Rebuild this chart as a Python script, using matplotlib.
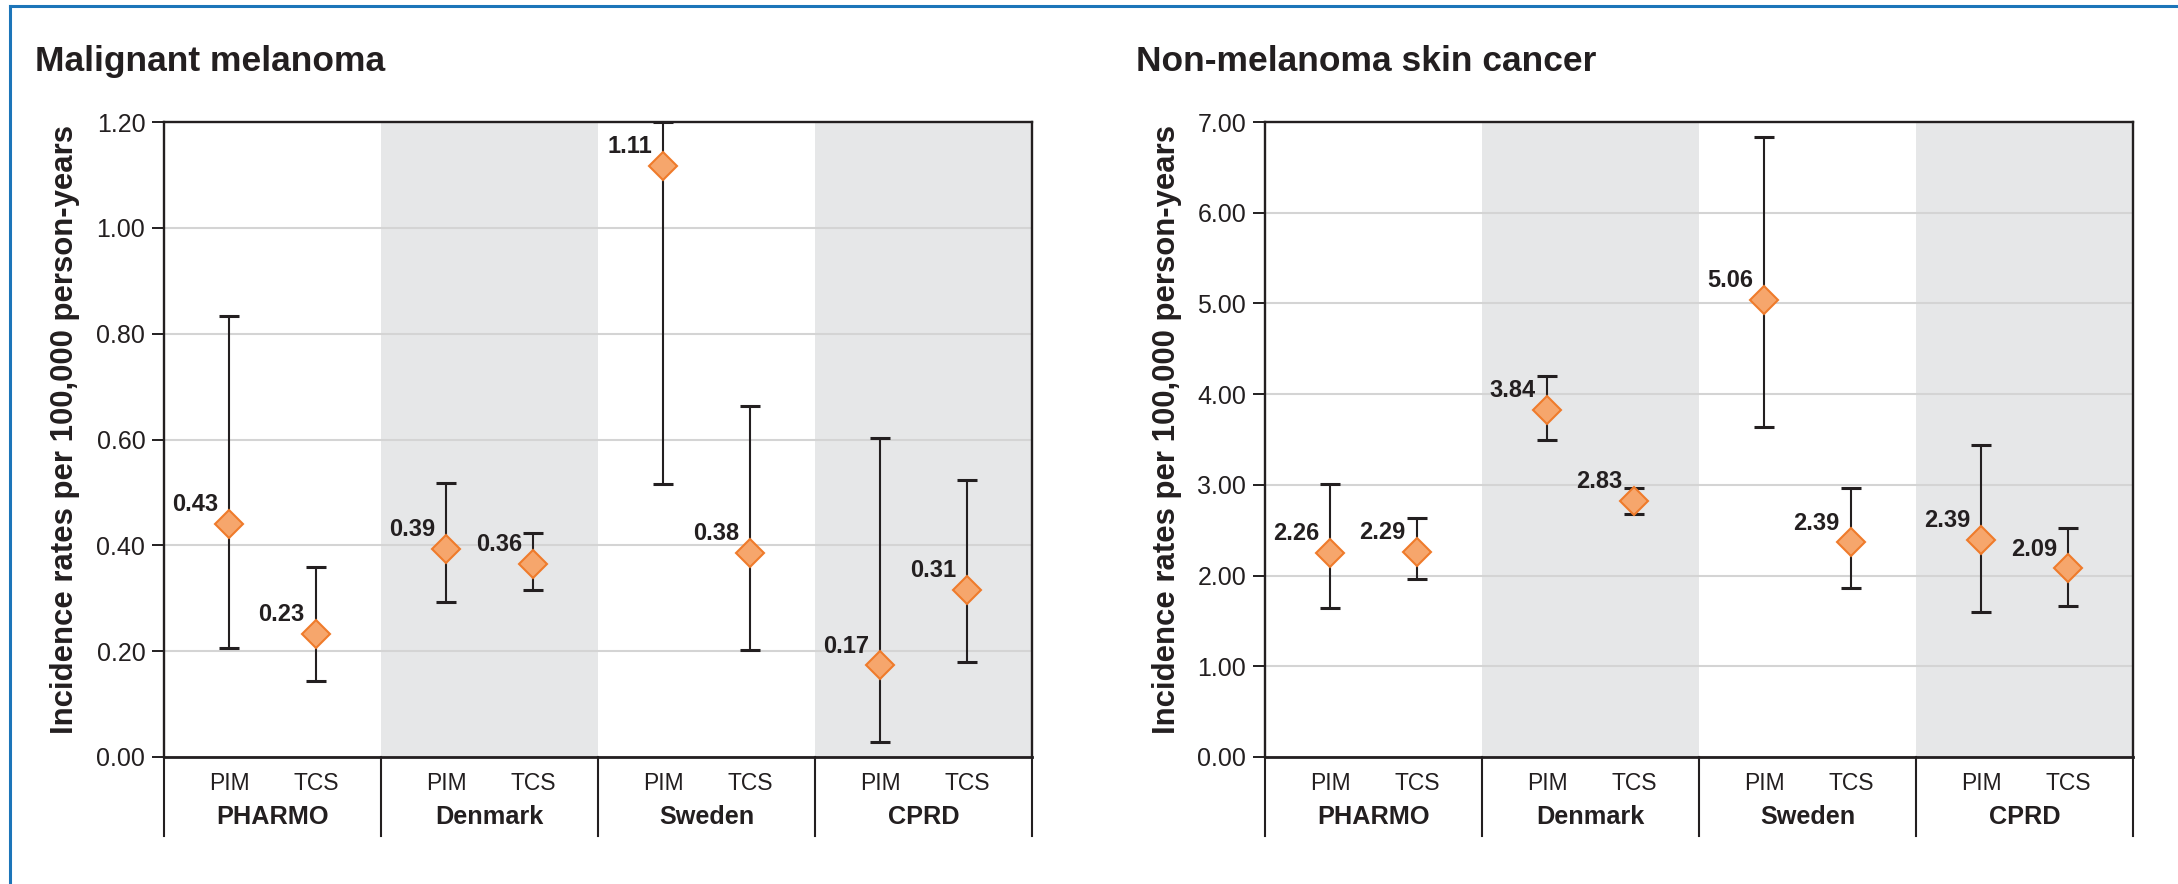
import matplotlib
matplotlib.use('Agg')
import matplotlib.pyplot as plt
import matplotlib.transforms as mtransforms
from matplotlib.lines import Line2D

plt.rcParams['font.family'] = ['Liberation Sans', 'DejaVu Sans']

groups = ['PHARMO', 'Denmark', 'Sweden', 'CPRD']
arms = ['PIM', 'TCS']

# order: PHARMO PIM, PHARMO TCS, Denmark PIM, Denmark TCS, Sweden ..., CPRD ...
mm_labels = ['0.43', '0.23', '0.39', '0.36', '1.11', '0.38', '0.17', '0.31']
mm_rate = [0.441, 0.233, 0.394, 0.364, 1.117, 0.385, 0.173, 0.315]
mm_low = [0.206, 0.144, 0.293, 0.316, 0.515, 0.202, 0.028, 0.180]
mm_high = [0.833, 0.359, 0.518, 0.424, 1.200, 0.663, 0.603, 0.524]

nmsc_labels = ['2.26', '2.29', '3.84', '2.83', '5.06', '2.39', '2.39', '2.09']
nmsc_rate = [2.253, 2.259, 3.821, 2.819, 5.034, 2.365, 2.396, 2.078]
nmsc_low = [1.643, 1.960, 3.491, 2.676, 3.634, 1.861, 1.593, 1.661]
nmsc_high = [3.006, 2.632, 4.200, 2.962, 6.839, 2.962, 3.435, 2.520]

BLACK = '#231f20'
SHADE = '#e6e7e8'
GRID = '#d4d4d4'
FILL = '#f6a66c'
EDGE = '#ef7b2b'

W, H = 2178, 884
fig = plt.figure(figsize=(W / 100, H / 100), dpi=100)

# blue frame (top and left only, rest is cropped)
fig.add_artist(Line2D([10 / W, 10 / W], [0, 1 - 6 / H], color='#1c75b9', lw=2.2))
fig.add_artist(Line2D([10 / W, 1], [1 - 6 / H, 1 - 6 / H], color='#1c75b9', lw=2.2))


def panel(left_px, title, title_px, ylab_px, labels, rate, low, high, ymax, step):
    ax = fig.add_axes([left_px / W, 1 - 757 / H, 868 / W, 635 / H])
    n = len(groups)
    ax.set_xlim(0, n)
    ax.set_ylim(0, ymax)

    for g in range(n):
        if g % 2 == 1:
            ax.axvspan(g, g + 1, color=SHADE, lw=0, zorder=0)

    xs = [i // 2 + (0.3 if i % 2 == 0 else 0.7) for i in range(len(rate))]
    yerr = [[r - lo for r, lo in zip(rate, low)], [hi - r for r, hi in zip(rate, high)]]
    ax.errorbar(xs, rate, yerr=yerr, fmt='none', ecolor=BLACK, elinewidth=1.5,
                capsize=7, capthick=2.2, zorder=3)
    ax.plot(xs, rate, 'D', ms=14, mfc=FILL, mec=EDGE, mew=1.5, zorder=4, clip_on=False)
    for x, y, t in zip(xs, rate, labels):
        ax.annotate(t, (x, y), xytext=(-8, 14), textcoords='offset points',
                    ha='right', va='center', fontsize=17, fontweight='bold', color=BLACK)

    ticks = [k * step for k in range(int(round(ymax / step)) + 1)]
    ax.set_yticks(ticks)
    ax.set_yticklabels([f'{t:.2f}' for t in ticks])
    ax.yaxis.grid(True, color=GRID, lw=1.5)
    ax.set_axisbelow(True)
    ax.tick_params(axis='y', length=8.5, width=1.4, color=BLACK, labelsize=18,
                   labelcolor=BLACK, pad=5)
    ax.set_xticks([])

    for side in ['left', 'right', 'top']:
        ax.spines[side].set_linewidth(1.7)
        ax.spines[side].set_color(BLACK)
    ax.spines['bottom'].set_linewidth(2.0)
    ax.spines['bottom'].set_color(BLACK)

    # category axis under the plot
    trans = mtransforms.blended_transform_factory(ax.transData, ax.transAxes)
    for g in range(n + 1):
        ax.plot([g, g], [0, -0.1245], color=BLACK, lw=1.5, transform=trans, clip_on=False)
    for g, name in enumerate(groups):
        ax.text(g + 0.3, -0.041, arms[0], transform=trans, ha='center', va='center',
                fontsize=16.5, color=BLACK)
        ax.text(g + 0.7, -0.041, arms[1], transform=trans, ha='center', va='center',
                fontsize=16.5, color=BLACK)
        ax.text(g + 0.5, -0.0945, name, transform=trans, ha='center', va='center',
                fontsize=18.2, fontweight='bold', color=BLACK)

    fig.text(title_px / W, 1 - 71 / H, title, ha='left', va='baseline',
             fontsize=25.5, fontweight='bold', color=BLACK)
    fig.text(ylab_px / W, 1 - 429 / H, 'Incidence rates per 100,000 person-years',
             rotation=90, ha='center', va='center', fontsize=22.4, fontweight='bold',
             color=BLACK)
    return ax


panel(164, 'Malignant melanoma', 35, 65, mm_labels, mm_rate, mm_low, mm_high, 1.2, 0.2)
panel(1265, 'Non-melanoma skin cancer', 1136, 1167, nmsc_labels, nmsc_rate, nmsc_low,
      nmsc_high, 7.0, 1.0)

fig.savefig('out.png', dpi=100)
